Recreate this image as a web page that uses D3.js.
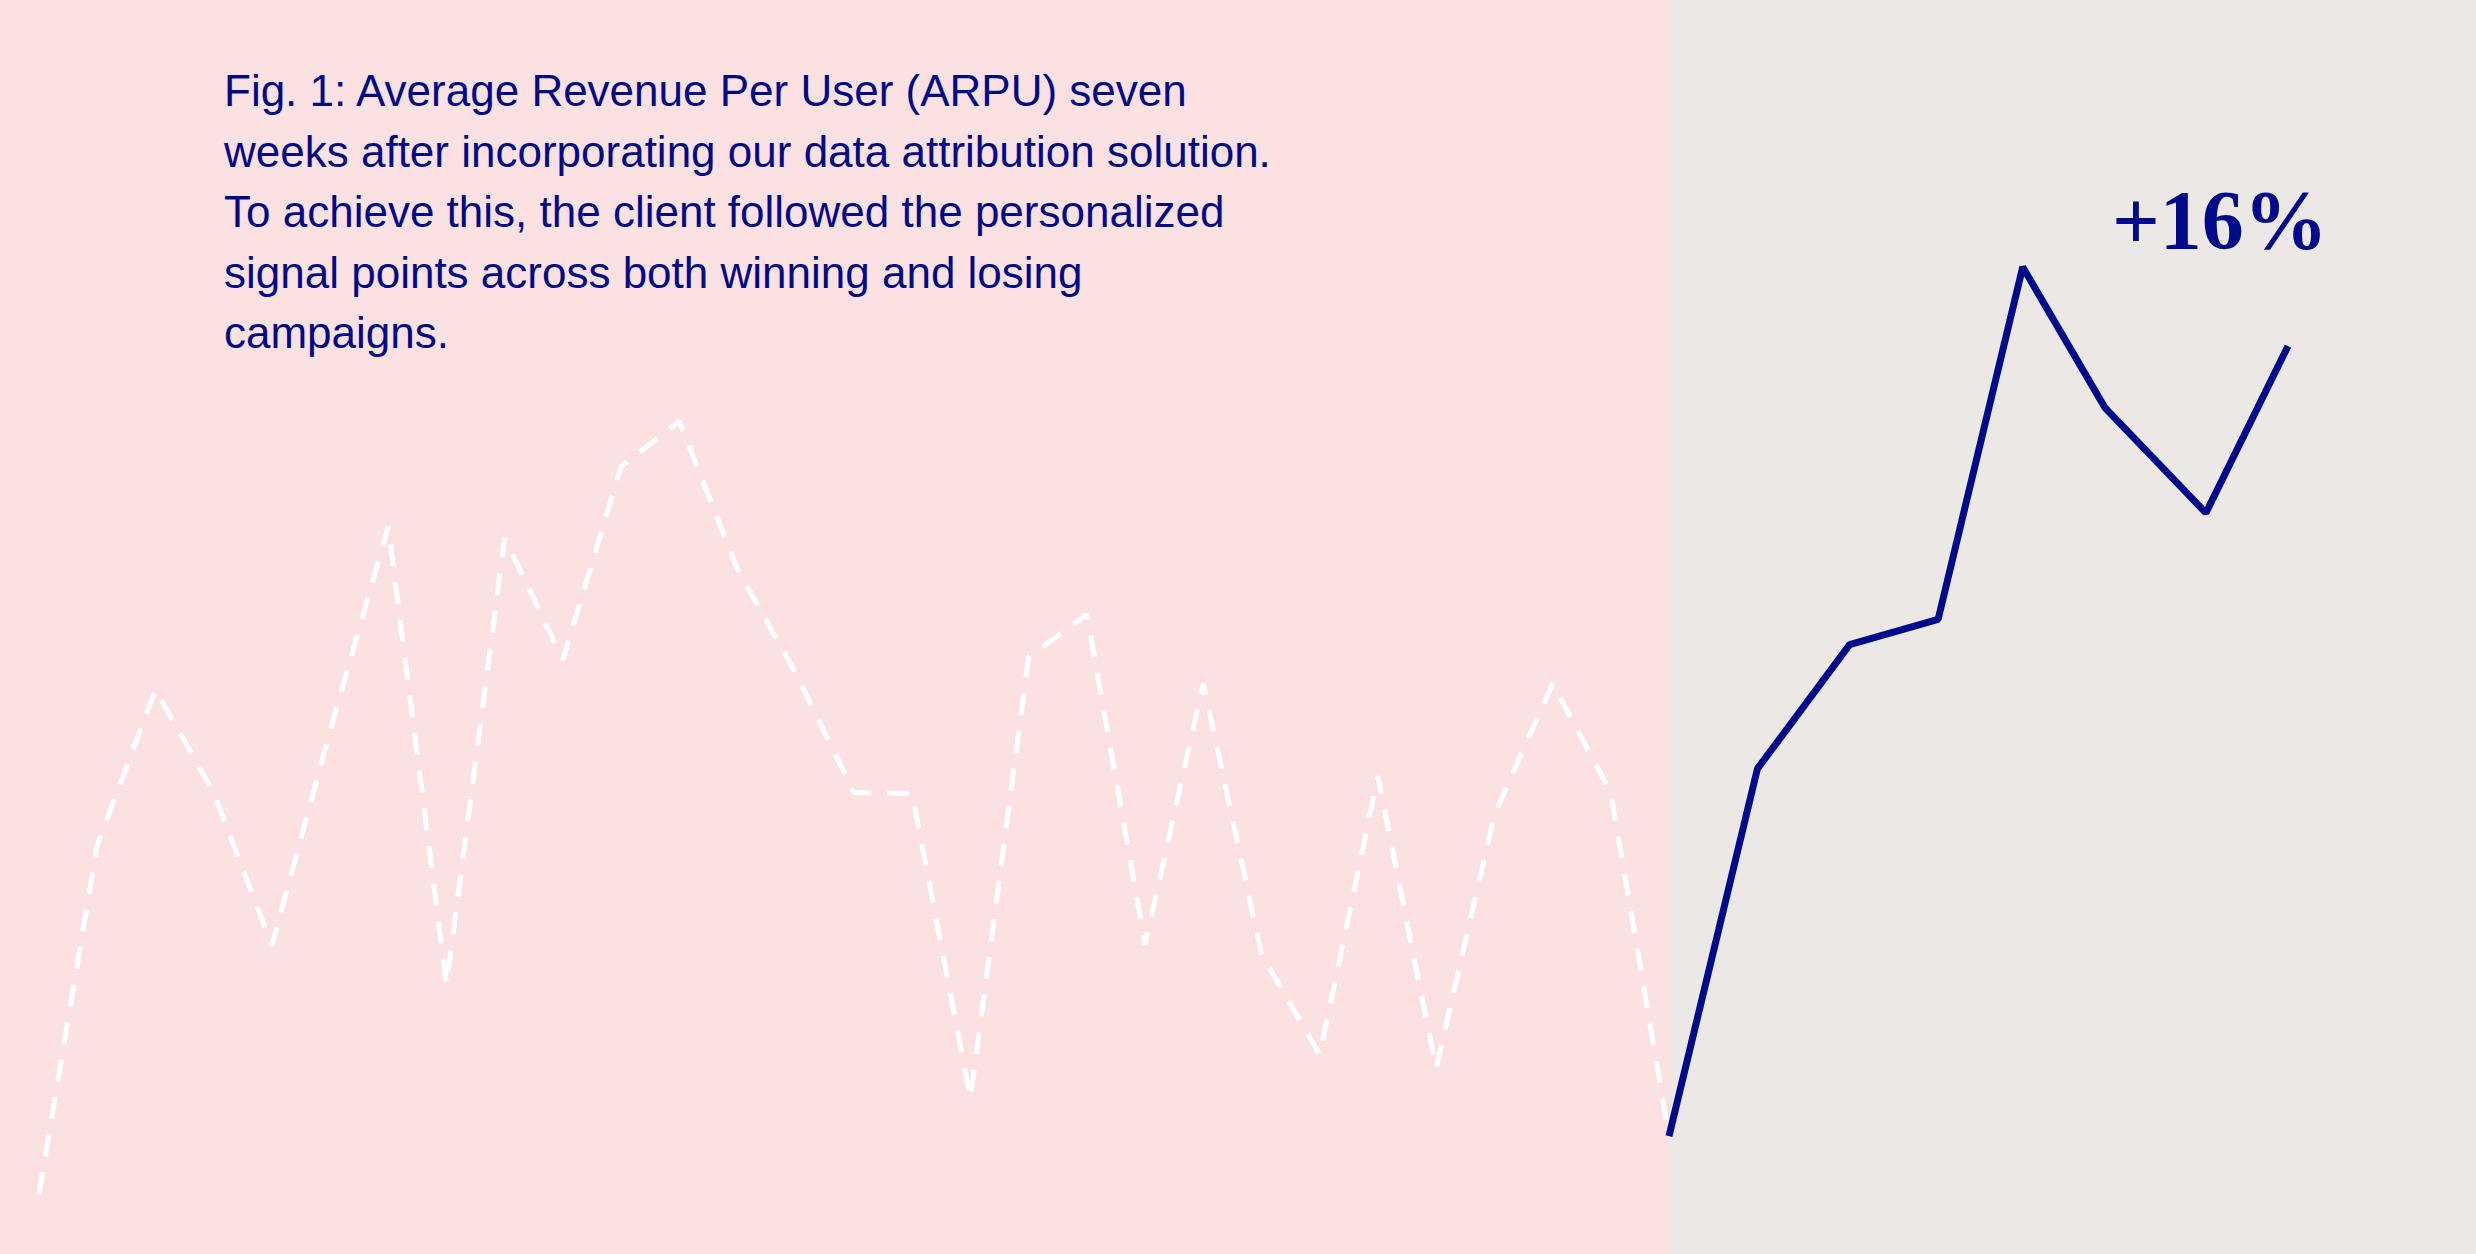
<!DOCTYPE html>
<html>
<head>
<meta charset="utf-8">
<script src="https://cdn.jsdelivr.net/npm/d3@7"></script>
<style>
  html, body { margin: 0; padding: 0; background: #ECE8E5; }
  svg { display: block; }
</style>
</head>
<body>
<svg id="chart"></svg>
<script>
// ---- data ----
const titleLines = [
  "Fig. 1: Average Revenue Per User (ARPU) seven",
  "weeks after incorporating our data attribution solution.",
  "To achieve this, the client followed the personalized",
  "signal points across both winning and losing",
  "campaigns."
];
// ARPU before (dashed, 28 periods) — arbitrary index units
const beforeValues = [4.8, 32.6, 45.0, 36.8, 24.6, 41.7, 58.0, 21.5, 57.1, 47.4,
  62.8, 66.4, 54.6, 46.3, 36.8, 36.7, 12.4, 47.6, 51.0, 24.7,
  45.5, 23.9, 15.9, 38.1, 14.8, 35.0, 45.5, 36.8, 9.4];
// ARPU during the seven weeks after (solid); day offsets
const afterDays = [0, 7, 14.3, 21.3, 28, 34.5, 42.5, 49];
const afterValues = [9.4, 38.7, 48.6, 50.6, 78.7, 67.5, 59.1, 72.4];
const upliftLabel = "+16%";

// ---- layout ----
const W = 2476, H = 1254;
const svg = d3.select("#chart").attr("width", W).attr("height", H);

const xBefore = d3.scaleLinear().domain([0, beforeValues.length - 1]).range([39, 1669]);
const xAfter = d3.scaleLinear().domain([0, 49]).range([1669, 2288]);
const y = d3.scaleLinear().domain([0, 100]).range([H, 0]);

// backgrounds
svg.append("rect").attr("x", 0).attr("y", 0).attr("width", xBefore.range()[1]).attr("height", H)
  .attr("fill", "#FBE1E1");
svg.append("rect").attr("x", xAfter.range()[0]).attr("y", 0)
  .attr("width", W - xAfter.range()[0]).attr("height", H).attr("fill", "#ECE8E5");

// dashed "before" line
const lineBefore = d3.line().x((d, i) => xBefore(i)).y(d => y(d));
svg.append("path").datum(beforeValues)
  .attr("d", lineBefore)
  .attr("fill", "none")
  .attr("stroke", "#FFFFFF")
  .attr("stroke-width", 5)
  .attr("stroke-linejoin", "bevel")
  .attr("stroke-dasharray", "22,16");

// solid "after" line
const lineAfter = d3.line().x((d, i) => xAfter(afterDays[i])).y(d => y(d));
svg.append("path").datum(afterValues)
  .attr("d", lineAfter)
  .attr("fill", "none")
  .attr("stroke", "#000A8A")
  .attr("stroke-linejoin", "bevel")
  .attr("stroke-width", 7);

// caption
const cap = svg.append("text")
  .attr("x", 224).attr("y", 106)
  .attr("font-family", "'Liberation Sans', Arial, sans-serif")
  .attr("font-size", 44)
  .attr("fill", "#000A8A");
cap.selectAll("tspan").data(titleLines).join("tspan")
  .attr("x", 224)
  .attr("dy", (d, i) => i === 0 ? 0 : 60.5)
  .text(d => d);

// uplift label
svg.append("text")
  .attr("x", 2112).attr("y", 249)
  .attr("font-family", "'Liberation Serif', 'Times New Roman', serif")
  .attr("font-weight", "bold")
  .attr("font-size", 84)
  .attr("fill", "#000A8A")
  .text(upliftLabel);
</script>
</body>
</html>
